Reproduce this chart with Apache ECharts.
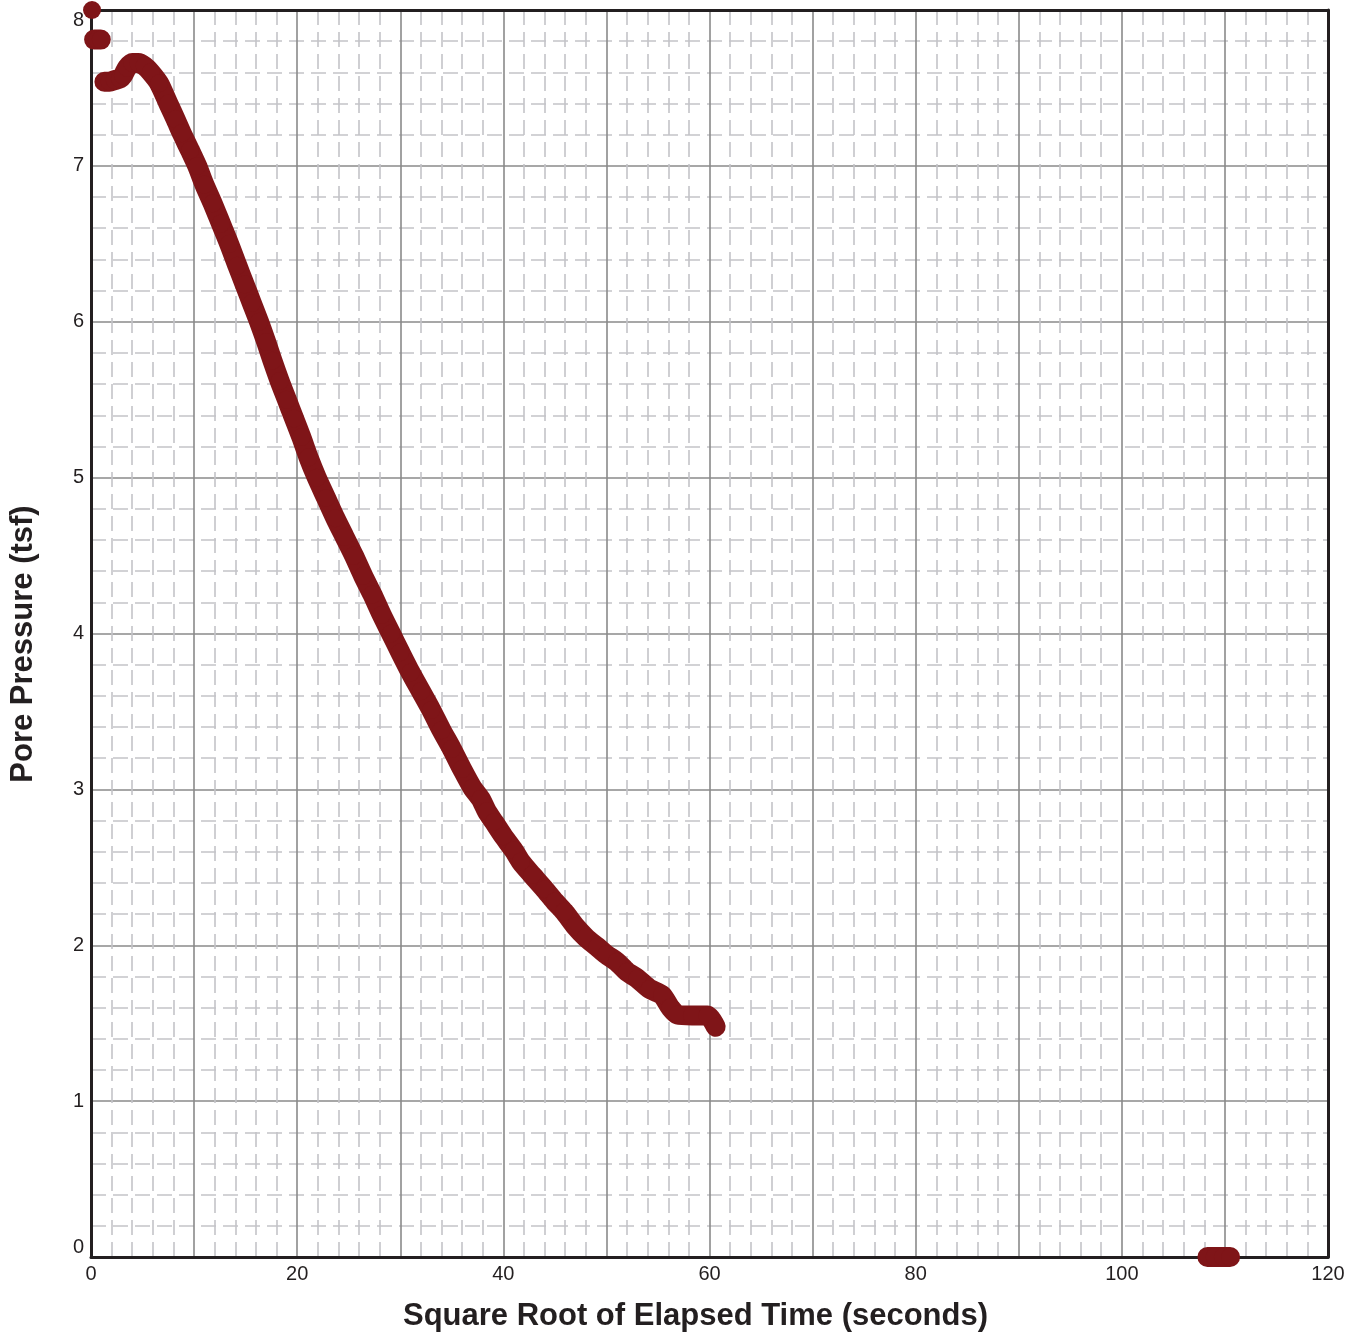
<!DOCTYPE html>
<html>
<head>
<meta charset="utf-8">
<title>Pore Pressure Dissipation</title>
<script src="https://cdn.jsdelivr.net/npm/echarts@6/dist/echarts.min.js"></script>
<style>
  html, body { margin: 0; padding: 0; background: #ffffff; }
  #chart { width: 1356px; height: 1342px; }
</style>
</head>
<body>
<div id="chart"></div>
<script>
// Dissipation readings: square root of elapsed time (s^0.5) vs pore pressure (tsf).
// null entries separate readings that are not joined by the trace.
const sqrtTime = [
  0.1, null,
  0.3, 0.6, 0.95, null,
  1.3, 1.8, 2.3, 2.8, 3.1, 3.5, 4.0, 4.6, 5.2, 5.8, 6.6, 7.5, 8.2, 8.8, 9.6,
  10.3, 11.0, 11.8, 12.6, 13.4, 14.2, 14.9, 15.6, 16.3, 17.0, 17.6, 18.3, 19.0, 19.7,
  20.4, 21.1, 21.9, 22.8, 23.7, 24.6, 25.5, 26.4, 27.3, 28.2, 29.1, 30.0, 31.0, 32.0,
  33.0, 34.0, 35.0, 36.0, 37.0, 37.8, 38.4, 39.1, 40.0, 41.0, 41.7, 42.8, 44.0, 45.0,
  45.9, 47.0, 48.0, 49.1, 50.0, 51.0, 52.0, 53.0, 54.2, 55.4, 56.2, 56.9, 58.3, 59.8,
  60.6, null,
  108.3, 109.0, 109.8, 110.5
];
const porePressure = [
  8.0, null,
  7.81, 7.81, 7.81, null,
  7.54, 7.54, 7.55, 7.56, 7.58, 7.63, 7.66, 7.66, 7.64, 7.60, 7.53, 7.40, 7.30, 7.21, 7.10,
  7.00, 6.88, 6.76, 6.63, 6.50, 6.36, 6.24, 6.12, 6.00, 5.87, 5.75, 5.62, 5.50, 5.38,
  5.26, 5.13, 5.00, 4.87, 4.74, 4.62, 4.50, 4.37, 4.25, 4.12, 4.00, 3.88, 3.75, 3.63,
  3.51, 3.38, 3.26, 3.13, 3.01, 2.94, 2.86, 2.79, 2.70, 2.61, 2.536, 2.45, 2.36, 2.28,
  2.215, 2.12, 2.05, 1.99, 1.94, 1.894, 1.83, 1.787, 1.72, 1.68, 1.60, 1.555, 1.55, 1.55,
  1.477, null,
  0, 0, 0, 0
];

// Axis ranges and labelled ticks
const xRange = [0, 120];
const xLabelTicks = [0, 20, 40, 60, 80, 100, 120];
const yRange = [0, 8];

const points = sqrtTime.map((t, i) => (t === null ? [null, null] : [t, porePressure[i]]));

const TEXT = '#231f20';
const FONT = 'Liberation Sans, Arial, sans-serif';
const MAJOR = { color: '#8a8a8a', width: 1.6 };
const MINOR = { color: '#c4c4c8', width: 1.6, type: [15, 7] };
const FRAME = { color: TEXT, width: 3 };

const chart = echarts.init(document.getElementById('chart'), null, { renderer: 'canvas' });

chart.setOption({
  animation: false,
  backgroundColor: '#ffffff',
  grid: { left: 90, right: 28, top: 10, bottom: 85 },
  xAxis: [{
    type: 'value',
    min: xRange[0], max: xRange[1], interval: 10,
    name: 'Square Root of Elapsed Time (seconds)',
    nameLocation: 'middle',
    nameGap: 44,
    nameTextStyle: {
      fontFamily: FONT, fontWeight: 'bold', fontSize: 31, color: TEXT,
      padding: [0, 28, 0, 0]
    },
    axisLine: { show: true, onZero: false, lineStyle: FRAME },
    axisTick: { show: false },
    axisLabel: {
      margin: 7, fontFamily: FONT, fontSize: 20, color: TEXT,
      formatter: v => (xLabelTicks.indexOf(v) >= 0 ? String(v) : '')
    },
    splitLine: { show: true, lineStyle: MAJOR },
    minorTick: { show: false, splitNumber: 5 },
    minorSplitLine: { show: true, lineStyle: MINOR },
    z: 3
  }, {
    // top frame edge
    type: 'value', position: 'top',
    min: xRange[0], max: xRange[1],
    axisLine: { show: true, onZero: false, lineStyle: FRAME },
    axisTick: { show: false }, axisLabel: { show: false }, splitLine: { show: false },
    z: 3
  }],
  yAxis: [{
    type: 'value',
    min: yRange[0], max: yRange[1], interval: 1,
    name: 'Pore Pressure (tsf)',
    nameLocation: 'middle',
    nameGap: 52,
    nameTextStyle: {
      fontFamily: FONT, fontWeight: 'bold', fontSize: 31, color: TEXT,
      padding: [0, 21, 0, 0]
    },
    axisLine: { show: true, onZero: false, lineStyle: FRAME },
    axisTick: { show: false },
    axisLabel: {
      margin: 7, fontFamily: FONT, fontSize: 20, color: TEXT,
      verticalAlignMinLabel: 'bottom',
      verticalAlignMaxLabel: 'top'
    },
    splitLine: { show: true, lineStyle: MAJOR },
    minorTick: { show: false, splitNumber: 5 },
    minorSplitLine: { show: true, lineStyle: MINOR },
    z: 3
  }, {
    // right frame edge
    type: 'value', position: 'right',
    min: yRange[0], max: yRange[1],
    axisLine: { show: true, onZero: false, lineStyle: FRAME },
    axisTick: { show: false }, axisLabel: { show: false }, splitLine: { show: false },
    z: 3
  }],
  series: [{
    name: 'Pore Pressure',
    type: 'line',
    xAxisIndex: 0,
    yAxisIndex: 0,
    data: points,
    connectNulls: false,
    clip: false,
    smooth: 0.25,
    symbol: 'circle',
    symbolSize: 18,
    showSymbol: true,
    itemStyle: { color: '#7f1518' },
    lineStyle: { color: '#7f1518', width: 20, cap: 'round', join: 'round' },
    emphasis: { disabled: true },
    z: 5
  }]
});
</script>
</body>
</html>
